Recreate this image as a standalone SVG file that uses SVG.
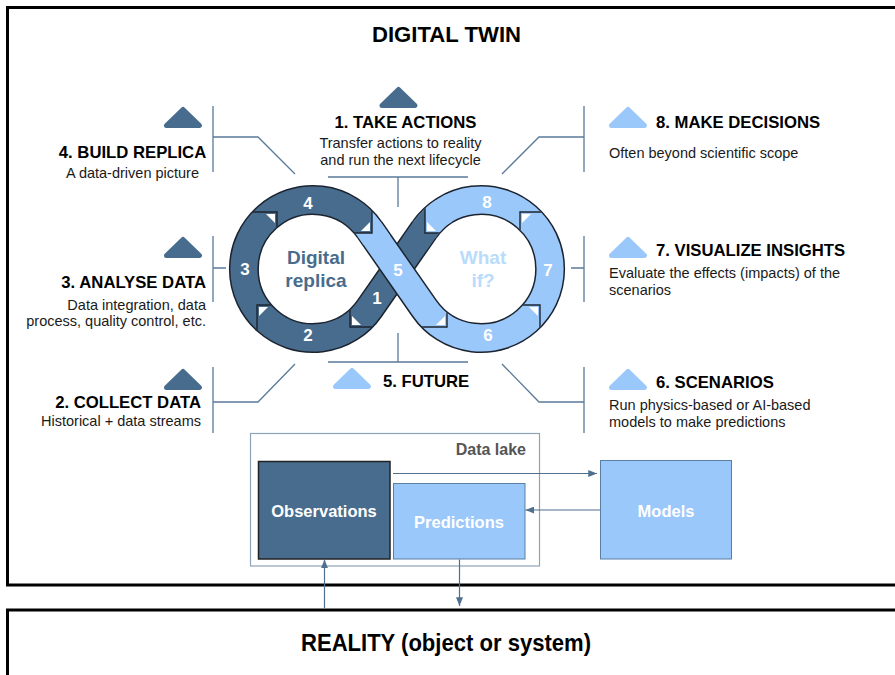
<svg xmlns="http://www.w3.org/2000/svg" width="895" height="675" viewBox="0 0 895 675">
<style>
.frame{fill:none;stroke:#000;stroke-width:3}
.ttl{font-family:"Liberation Sans",Arial,sans-serif;font-weight:bold;fill:#000}
.h{font-family:"Liberation Sans",Arial,sans-serif;font-weight:bold;font-size:16.7px;fill:#000}
.d{font-family:"Liberation Sans",Arial,sans-serif;font-size:14.5px;fill:#1a1a1a}
.num{font-family:"Liberation Sans",Arial,sans-serif;font-weight:bold;font-size:17px;fill:#fff;text-anchor:middle}
.inner{font-family:"Liberation Sans",Arial,sans-serif;font-weight:bold;font-size:19px;text-anchor:middle}
.lead{fill:none;stroke:#5a7a9a;stroke-width:1.3}
.triD{fill:#486c8d;stroke:#486c8d;stroke-width:5;stroke-linejoin:round}
.triL{fill:#9ac8fa;stroke:#9ac8fa;stroke-width:5;stroke-linejoin:round}
.bandO{fill:none;stroke:#1c2430;stroke-width:30}
.notch{fill:none;stroke:#1c2430;stroke-width:1.4}
.wt{fill:#fff}
.box{font-family:"Liberation Sans",Arial,sans-serif;font-weight:bold;font-size:16.5px;fill:#fff;text-anchor:middle}
.conn{fill:none;stroke:#4f6f8f;stroke-width:1.2}
</style>
<defs>
<path id="tri" d="M0,-8 L16.5,8 L-16.5,8 Z"/>
<marker id="ah" viewBox="0 0 10 8" refX="10" refY="4" markerWidth="9" markerHeight="7" orient="auto" markerUnits="userSpaceOnUse"><path d="M0,0 L10,4 L0,8 z" fill="#4f6f8f"/></marker>
<mask id="bandMask" maskUnits="userSpaceOnUse" x="0" y="0" width="895" height="675">
<path d="M424.4,229.7 L369.6,308.3 A69,69 0 1 1 369.6,229.7 L424.4,308.3 A69,69 0 1 0 424.4,229.7" fill="none" stroke="#fff" stroke-width="27"/>
</mask>
</defs>
<rect width="895" height="675" fill="#fff"/>

<g id="digital-twin-frame">
<rect class="frame" x="7.5" y="7.5" width="900" height="577.5"/>
<text class="ttl" x="446.5" y="42" font-size="22.5" text-anchor="middle" textLength="149" lengthAdjust="spacingAndGlyphs">DIGITAL TWIN</text>
</g>

<g id="reality">
<rect class="frame" x="7.5" y="610" width="900" height="70"/>
<text class="ttl" x="446" y="651" font-size="23" text-anchor="middle" textLength="290" lengthAdjust="spacingAndGlyphs">REALITY (object or system)</text>
</g>

<g id="leaders">
<path class="lead" d="M328,177 H468 M398,177 V207"/>
<path class="lead" d="M213,106 V172 M213,137 H258 L295,174"/>
<path class="lead" d="M584,106 V172 M584,137 H539 L502,174"/>
<path class="lead" d="M213,236 V302 M213,268 H226"/>
<path class="lead" d="M584,236 V302 M584,268 H571"/>
<path class="lead" d="M213,367 V433 M213,402 H258 L295,364"/>
<path class="lead" d="M584,367 V433 M584,402 H539 L502,364"/>
<path class="lead" d="M398,333 V362 M328,362 H468"/>
</g>

<g id="infinity-loop">
<path class="bandO" d="M424.4,229.7 L369.6,308.3 A69,69 0 1 1 369.6,229.7"/>
<path fill="none" stroke="#486c8d" stroke-width="27" d="M424.4,229.7 L369.6,308.3 A69,69 0 1 1 369.6,229.7"/>
<path class="bandO" d="M369.6,229.7 L424.4,308.3 A69,69 0 1 0 424.4,229.7"/>
<path fill="none" stroke="#9ac8fa" stroke-width="27" d="M369.6,229.7 L424.4,308.3 A69,69 0 1 0 424.4,229.7"/>
<g mask="url(#bandMask)">
<polygon fill="#486c8d" points="345,200 372,200 372,233 345,233"/>
<polygon fill="#9ac8fa" points="352,233 372,233 372,205 390,205 390,245 352,245"/>
<polygon fill="#9ac8fa" points="425,200 452,200 452,233 425,233"/>
<polygon fill="#486c8d" points="404,205 425,205 425,233 447,233 447,250 404,250"/>
<path class="notch" d="M247,212 H277 V242 M342,233 H372 V203 M380,327 H350 V297 M287,305 H257 V335 M455,233 H425 V203 M550,212 H520 V242 M510,305 H540 V335 M417,327 H447 V297"/>
<polygon class="wt" points="275,214 266,214 275,223"/>
<polygon class="wt" points="370,231 361,231 370,222"/>
<polygon class="wt" points="352,325 361,325 352,316"/>
<polygon class="wt" points="259,307 268,307 259,316"/>
<polygon class="wt" points="427,231 436,231 427,222"/>
<polygon class="wt" points="522,214 531,214 522,223"/>
<polygon class="wt" points="538,307 529,307 538,316"/>
<polygon class="wt" points="445,325 436,325 445,316"/>
</g>
<text class="num" x="308" y="209">4</text>
<text class="num" x="245" y="275">3</text>
<text class="num" x="308" y="341">2</text>
<text class="num" x="377" y="304">1</text>
<text class="num" x="398" y="276">5</text>
<text class="num" x="487" y="208">8</text>
<text class="num" x="548" y="276">7</text>
<text class="num" x="488" y="341">6</text>
<text class="inner" fill="#486c8d" x="316" y="264">Digital</text>
<text class="inner" fill="#486c8d" x="316" y="286.5">replica</text>
<text class="inner" fill="#b9dcfb" x="483" y="264">What</text>
<text class="inner" fill="#b9dcfb" x="483" y="286.5">if?</text>
</g>

<g id="step1">
<use href="#tri" class="triD" x="398.5" y="97.5"/>
<text class="h" x="405.5" y="128" text-anchor="middle">1. TAKE ACTIONS</text>
<text class="d" x="400.5" y="148" text-anchor="middle">Transfer actions to reality</text>
<text class="d" x="400.5" y="165" text-anchor="middle">and run the next lifecycle</text>
</g>
<g id="step4">
<use href="#tri" class="triD" x="183" y="117.5"/>
<text class="h" x="132.5" y="158" text-anchor="middle">4. BUILD REPLICA</text>
<text class="d" x="132.5" y="178" text-anchor="middle">A data-driven picture</text>
</g>
<g id="step3">
<use href="#tri" class="triD" x="183" y="247.5"/>
<text class="h" x="206" y="288" text-anchor="end">3. ANALYSE DATA</text>
<text class="d" x="206" y="310" text-anchor="end">Data integration, data</text>
<text class="d" x="206" y="326" text-anchor="end">process, quality control, etc.</text>
</g>
<g id="step2">
<use href="#tri" class="triD" x="183" y="379.5"/>
<text class="h" x="201" y="408" text-anchor="end">2. COLLECT DATA</text>
<text class="d" x="201" y="426" text-anchor="end">Historical + data streams</text>
</g>
<g id="step8">
<use href="#tri" class="triL" x="628" y="117.5"/>
<text class="h" x="656" y="128">8. MAKE DECISIONS</text>
<text class="d" x="609" y="158">Often beyond scientific scope</text>
</g>
<g id="step7">
<use href="#tri" class="triL" x="628" y="247.5"/>
<text class="h" x="656" y="256">7. VISUALIZE INSIGHTS</text>
<text class="d" x="609" y="278">Evaluate the effects (impacts) of the</text>
<text class="d" x="609" y="295">scenarios</text>
</g>
<g id="step6">
<use href="#tri" class="triL" x="628" y="379.5"/>
<text class="h" x="656" y="388">6. SCENARIOS</text>
<text class="d" x="609" y="410">Run physics-based or AI-based</text>
<text class="d" x="609" y="427">models to make predictions</text>
</g>
<g id="step5">
<use href="#tri" class="triL" x="352" y="378.5"/>
<text class="h" x="383" y="387">5. FUTURE</text>
</g>

<g id="data-lake">
<rect x="250.5" y="433.5" width="289" height="132.5" fill="none" stroke="#8ea3b8" stroke-width="1.2"/>
<text x="526" y="455" text-anchor="end" font-family="Liberation Sans, Arial, sans-serif" font-weight="bold" font-size="16" fill="#555">Data lake</text>
</g>
<g id="observations">
<rect x="258.5" y="461.5" width="131.5" height="97.5" fill="#486c8d" stroke="#222" stroke-width="1.5"/>
<text class="box" x="324" y="516.5">Observations</text>
</g>
<g id="predictions">
<rect x="393.5" y="483.5" width="131.5" height="75.5" fill="#9ac8fa" stroke="#5a7fa3" stroke-width="1"/>
<text class="box" x="459" y="527.5">Predictions</text>
</g>
<g id="models">
<rect x="600.5" y="460.5" width="131" height="98.5" fill="#9ac8fa" stroke="#5a7fa3" stroke-width="1"/>
<text class="box" x="666" y="516.5">Models</text>
</g>

<g id="connectors">
<path class="conn" d="M393,473.5 H597" marker-end="url(#ah)"/>
<path class="conn" d="M600,510 H525.5" marker-end="url(#ah)"/>
<path class="conn" d="M324.5,608 V559.5" marker-end="url(#ah)"/>
<path class="conn" d="M459.5,559.5 V606" marker-end="url(#ah)"/>
</g>
</svg>
